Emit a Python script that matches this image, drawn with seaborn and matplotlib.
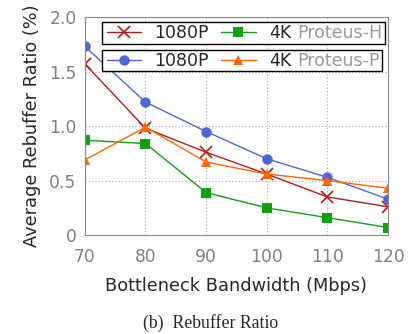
import seaborn as sns
import pandas as pd
import matplotlib.pyplot as plt
from matplotlib.patches import Rectangle

bandwidth = [70, 80, 90, 100, 110, 120]
h_1080p = [1.57, 0.98, 0.76, 0.56, 0.35, 0.26]
h_4k = [0.87, 0.84, 0.39, 0.25, 0.16, 0.07]
p_1080p = [1.73, 1.22, 0.95, 0.70, 0.53, 0.33]
p_4k = [0.69, 0.99, 0.67, 0.56, 0.50, 0.43]

sns.set_style("white")
plt.rcParams['font.family'] = ['DejaVu Sans']

fig = plt.figure(figsize=(4.08, 3.34), dpi=100)
ax = fig.add_axes([0.208, 0.296, 0.743, 0.653])

series = [
    (h_1080p, "1080P", "#b01c1c", "x", 8),
    (h_4k, "4K", "#10a010", "s", 6.5),
    (p_1080p, "1080P", "#5264d8", "o", 7.5),
    (p_4k, "4K", "#ff6600", "^", 7.5),
]
lines = []
for vals, lab, col, mk, ms in series:
    df = pd.DataFrame({"bw": bandwidth, "ratio": vals})
    sns.lineplot(data=df, x="bw", y="ratio", color=col, marker=mk, markersize=ms,
                 markeredgecolor=col, markeredgewidth=1.2 if mk == "x" else 0,
                 linewidth=1, ax=ax)
    lines.append(ax.lines[-1])

ax.set_xlim(70, 120)
ax.set_ylim(0, 2.0)
ax.set_xticks(bandwidth)
ax.set_yticks([0, 0.5, 1.0, 1.5, 2.0])
ax.set_yticklabels(["0", "0.5", "1.0", "1.5", "2.0"])
ax.grid(True, linestyle=(0, (1, 2)), color="#aaaaaa", linewidth=0.8)
for s in ax.spines.values():
    s.set_color("#888888")
ax.tick_params(colors="#808080", labelsize=12.3, length=0, pad=6)
ax.tick_params(axis="x", pad=9)
ax.set_xlabel("Bottleneck Bandwidth (Mbps)", fontsize=12.8, labelpad=8)
ax.set_ylabel("Average Rebuffer Ratio (%)", fontsize=12.8, labelpad=6)

legs = []
for i, (ypos, name) in enumerate([(0.977, "Proteus-H"), (0.849, "Proteus-P")]):
    leg = ax.legend(lines[2 * i:2 * i + 2], ["1080P", "4K"], ncol=2,
                    loc="upper left", bbox_to_anchor=(0.066, ypos), borderaxespad=0,
                    fontsize=12.5, frameon=False, handlelength=2.0,
                    handletextpad=0.75, columnspacing=0.7, borderpad=0.1)
    ax.add_artist(leg)
    legs.append((leg, name))
ax.legend_ = None  # last one is already in the artist list

fig.canvas.draw()
r = fig.canvas.get_renderer()
inv = fig.transFigure.inverted()
for leg, name in legs:
    lb = leg.get_window_extent(r)
    tb = leg.get_texts()[1].get_window_extent(r)
    x, y = inv.transform((tb.x1 + 6, (tb.y0 + tb.y1) / 2))
    t = ax.text(x, y, name, ha="left", va="center", fontsize=12.5, color="#999999",
                transform=fig.transFigure, zorder=6, clip_on=False)
    gb = t.get_window_extent(r)
    x0, y0 = inv.transform((lb.x0 - 3, lb.y0))
    x1, y1 = inv.transform((gb.x1 + 3, lb.y1))
    ax.add_patch(Rectangle((x0, y0), x1 - x0, y1 - y0, transform=fig.transFigure,
                           facecolor="white", edgecolor="black", linewidth=1,
                           zorder=4, clip_on=False))

fig.text(0.517, 0.033, "(b)  Rebuffer Ratio", ha="center", va="center",
         fontsize=12.8, family="Liberation Serif")

fig.savefig("out.png", dpi=100)
